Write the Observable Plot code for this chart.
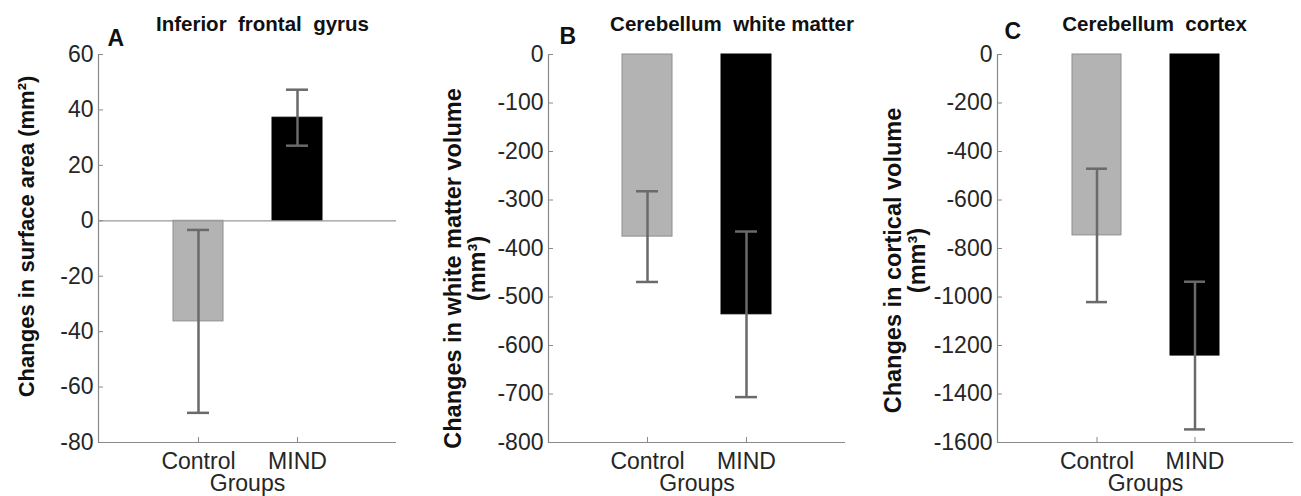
<!DOCTYPE html>
<html>
<head>
<meta charset="utf-8">
<script src="https://cdn.jsdelivr.net/npm/d3@7"></script>
<script src="https://cdn.jsdelivr.net/npm/@observablehq/plot@0.6"></script>
<style>
  html, body { margin: 0; padding: 0; background: #fff; }
  #wrap { position: relative; width: 1301px; height: 496px; overflow: hidden; }
  #wrap > div { position: absolute; top: 0; }
  svg { font-family: "Liberation Sans", Arial, sans-serif; }
</style>
</head>
<body>
<div id="wrap"><div id="pA"></div><div id="pB"></div><div id="pC"></div></div>
<script>
// ---- data ----
const groups = ["Control", "MIND"];

// A: Inferior frontal gyrus, surface area change (mm²)
const ifgMean = [-36.3, 37.2];
const ifgErr  = [33.0, 10.1];
const ifgTicks = [60, 40, 20, 0, -20, -40, -60, -80];

// B: Cerebellum white matter volume change (mm³)
const cwmMean = [-375.5, -535.7];
const cwmErr  = [93.5, 170.7];
const cwmTicks = [0, -100, -200, -300, -400, -500, -600, -700, -800];

// C: Cerebellum cortex volume change (mm³)
const ccMean = [-746, -1241.5];
const ccErr  = [275, 304.5];
const ccTicks = [0, -200, -400, -600, -800, -1000, -1200, -1400, -1600];

const titles  = ["Inferior  frontal  gyrus", "Cerebellum  white matter", "Cerebellum  cortex"];
const letters = ["A", "B", "C"];
const yLabels = [["Changes in surface area (mm²)"], ["Changes in white matter volume", "(mm³)"], ["Changes in cortical volume", "(mm³)"]];
const xLabel = "Groups";

// ---- styles ----
const barFill   = {Control: "#b3b3b3", MIND: "#000000"};
const barStroke = {Control: "#8e8e8e", MIND: "#000000"};
const errColor  = "#6a6a6a";
const axisColor = "#8a8a8a";
const textColor = "#262626";
const H = 496, MT = 54, MB = 54;

function panel(p) {
  const data = groups.map((g, i) => ({group: g, mean: p.mean[i], err: p.err[i]}));
  const innerW = p.width - p.ml - p.mr;
  const innerH = H - MT - MB;
  const marks = [
    Plot.barY(data, {x: "group", y: "mean", fill: d => barFill[d.group], stroke: d => barStroke[d.group], strokeWidth: 1}),
    p.zero ? Plot.ruleY([0], {stroke: "#9a9a9a", strokeWidth: 1.2}) : null,
    Plot.ruleX(data, {x: "group", y1: d => d.mean - d.err, y2: d => d.mean + d.err, stroke: errColor, strokeWidth: 2.5}),
    Plot.tickY(data, {x: "group", y: d => d.mean - d.err, stroke: errColor, strokeWidth: 2.5, inset: 14}),
    Plot.tickY(data, {x: "group", y: d => d.mean + d.err, stroke: errColor, strokeWidth: 2.5, inset: 14}),
    Plot.ruleY([p.domain[0]], {stroke: axisColor, strokeWidth: 1.2}),
    Plot.frame({anchor: "left", stroke: axisColor, strokeWidth: 1.2}),
    Plot.ruleY(p.ticks, {insetRight: innerW - 5, stroke: axisColor}),
    Plot.ruleX(groups, {x: d => d, insetTop: innerH - 5, stroke: axisColor}),
    Plot.axisY({ticks: p.ticks, tickSize: 0, tickPadding: 5, fontSize: 23, color: textColor, label: null, tickFormat: d => String(d)}),
    Plot.axisX({tickSize: 0, tickPadding: 10, fontSize: 23, color: textColor, label: null}),
    Plot.text([p.title], {text: d => d, frameAnchor: "top", textAnchor: "middle", dx: p.titleDx, dy: -24, lineAnchor: "bottom", fontSize: 20.5, fontWeight: "bold", fill: "#111"}),
    Plot.text([p.letter], {text: d => d, frameAnchor: "top-left", textAnchor: "start", dx: p.letterDx, dy: p.letterDy, lineAnchor: "bottom", fontSize: 23, fontWeight: "bold", fill: "#111"}),
    Plot.text([xLabel], {text: d => d, frameAnchor: "bottom", textAnchor: "middle", dy: 48, lineAnchor: "bottom", fontSize: 23, fill: textColor}),
    ...p.label.map((line, k) => Plot.text([line], {text: d => d, frameAnchor: "left", textAnchor: "middle", rotate: -90, dx: p.labelDx[k], dy: p.labelDy, lineAnchor: "bottom", fontSize: p.labelSize, fontWeight: "bold", fill: "#111"}))
  ];
  return Plot.plot({
    width: p.width, height: H,
    marginTop: MT, marginBottom: MB, marginLeft: p.ml, marginRight: p.mr,
    x: {domain: groups, paddingInner: 0.5, paddingOuter: 0.75, label: null},
    y: {domain: p.domain, label: null},
    style: {fontFamily: "'Liberation Sans', Arial, sans-serif", background: "transparent", overflow: "visible"},
    marks
  });
}

const panels = [
  {id: "pA", left: 0,   width: 430, ml: 98,  mr: 34, mean: ifgMean, err: ifgErr, ticks: ifgTicks, domain: [-80, 60],   zero: true,
   title: titles[0], titleDx: 15, letter: letters[0], letterDx: 9, letterDy: -9,  label: yLabels[0], labelDx: [-65], labelDy: -12, labelSize: 22},
  {id: "pB", left: 430, width: 430, ml: 118, mr: 15, mean: cwmMean, err: cwmErr, ticks: cwmTicks, domain: [-800, 0],  zero: false,
   title: titles[1], titleDx: 35, letter: letters[1], letterDx: 11, letterDy: -11, label: yLabels[1], labelDx: [-88, -64], labelDy: 20, labelSize: 23.5},
  {id: "pC", left: 860, width: 441, ml: 137, mr: 8,  mean: ccMean,  err: ccErr,  ticks: ccTicks,  domain: [-1600, 0], zero: false,
   title: titles[2], titleDx: 9,  letter: letters[2], letterDx: 7,  letterDy: -16, label: yLabels[2], labelDx: [-97, -73], labelDy: 12, labelSize: 23.5}
];

for (const p of panels) {
  const host = document.getElementById(p.id);
  host.style.left = p.left + "px";
  host.appendChild(panel(p));
}
</script>
</body>
</html>
